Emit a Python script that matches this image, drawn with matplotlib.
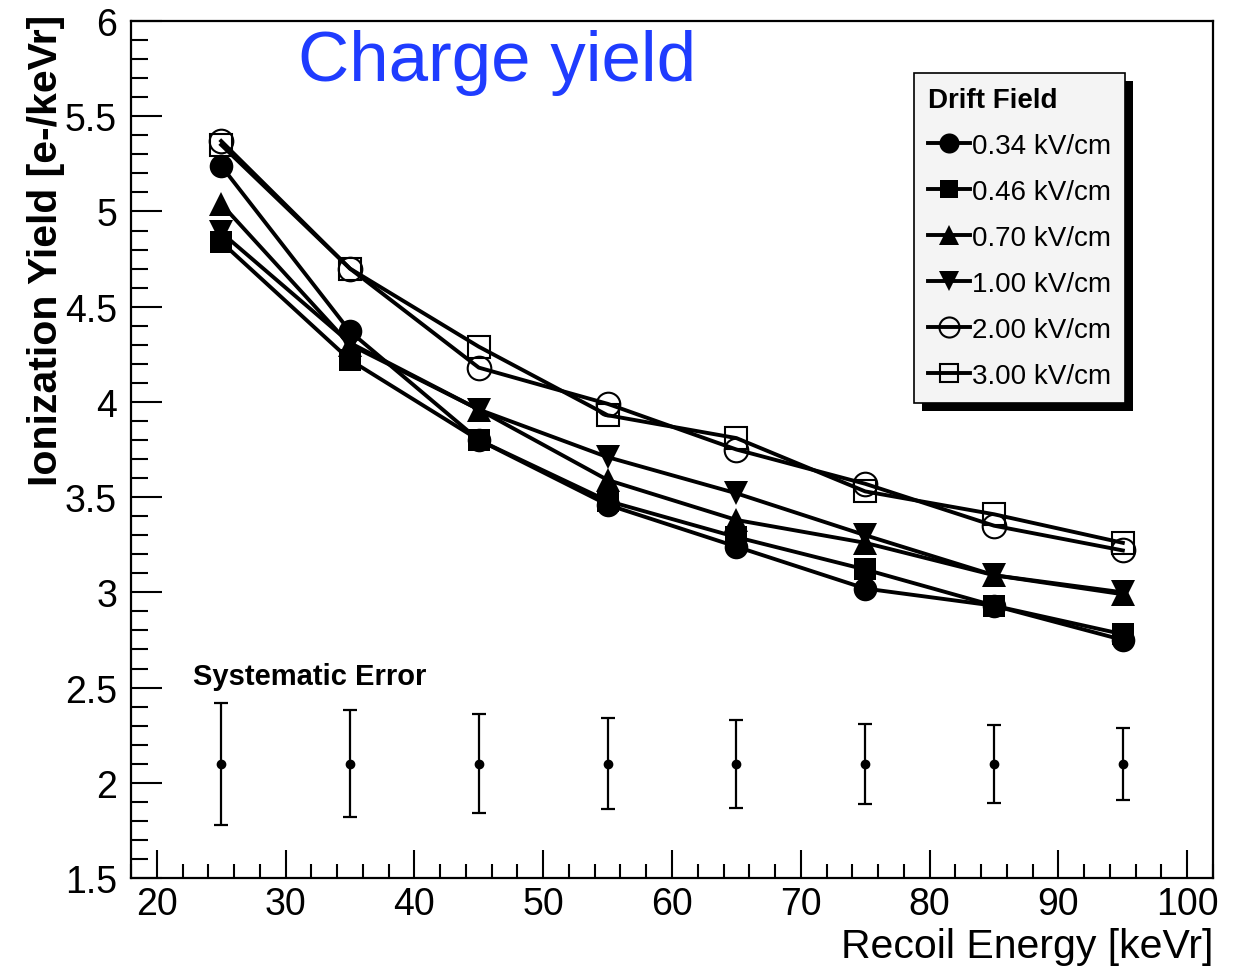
import numpy as np
import matplotlib
matplotlib.use("Agg")
import matplotlib.pyplot as plt
from matplotlib.patches import Rectangle
from matplotlib.ticker import MultipleLocator

plt.rcParams['font.family'] = ['Liberation Sans', 'DejaVu Sans']

# recoil energies (keVr)
energy = [25, 35, 45, 55, 65, 75, 85, 95]

# ionization yield per drift field (e-/keVr)
y_034 = [5.24, 4.37, 3.80, 3.46, 3.24, 3.02, 2.93, 2.75]
y_046 = [4.84, 4.22, 3.80, 3.48, 3.29, 3.12, 2.93, 2.78]
y_070 = [5.04, 4.30, 3.96, 3.59, 3.38, 3.26, 3.09, 2.99]
y_100 = [4.89, 4.31, 3.96, 3.71, 3.52, 3.30, 3.09, 3.00]
y_200 = [5.37, 4.70, 4.18, 3.99, 3.75, 3.57, 3.35, 3.22]
y_300 = [5.35, 4.70, 4.29, 3.93, 3.81, 3.53, 3.41, 3.26]

field_labels = ["0.34 kV/cm", "0.46 kV/cm", "0.70 kV/cm",
                "1.00 kV/cm", "2.00 kV/cm", "3.00 kV/cm"]

# systematic error band shown near the bottom
sys_center = [2.10] * 8
sys_err = [0.32, 0.28, 0.26, 0.24, 0.23, 0.21, 0.205, 0.19]

series = [y_034, y_046, y_070, y_100, y_200, y_300]
markers = ['o', 's', '^', 'v', 'o', 's']
filled = [True, True, True, True, False, False]
msizes = [17, 16, 17, 17, 17, 16]

fig = plt.figure(figsize=(12.5, 9.7), dpi=100)
ax = fig.add_axes([0.1048, 0.0938, 0.8656, 0.8835])

handles = []
for ys, m, f, ms, lab in zip(series, markers, filled, msizes, field_labels):
    h, = ax.plot(energy, ys, color='black', lw=2.8, marker=m, ms=ms,
                 mfc='black' if f else 'none', mec='black',
                 mew=0 if f else 1.5, label=lab)
    handles.append(h)

ax.errorbar(energy, sys_center, yerr=sys_err, fmt='o', color='black',
            ms=6, elinewidth=1.6, capsize=5, capthick=1.6)
ax.text(25.0 - 2.2, 2.56, "Systematic Error", fontsize=21, fontweight='bold',
        ha='left', va='center')

ax.set_xlim(18, 102)
ax.set_ylim(1.5, 6)
ax.xaxis.set_major_locator(MultipleLocator(10))
ax.xaxis.set_minor_locator(MultipleLocator(2))
ax.yaxis.set_major_locator(MultipleLocator(0.5))
ax.yaxis.set_minor_locator(MultipleLocator(0.1))
ax.yaxis.set_major_formatter(plt.FuncFormatter(lambda v, p: f"{v:g}"))
ax.tick_params(which='both', direction='in', width=1.5, labelsize=27,
               top=False, right=False)
ax.tick_params(axis='y', which='major', length=22, pad=10)
ax.tick_params(axis='y', which='minor', length=12)
ax.tick_params(axis='x', which='major', length=20, pad=6)
ax.tick_params(axis='x', which='minor', length=10)
for s in ax.spines.values():
    s.set_linewidth(1.6)

fig.text(0.9704, 0.024, "Recoil Energy [keVr]", fontsize=29.5, ha='right', va='center')
fig.text(0.037, 0.985, "Ionization Yield [e-/keVr]", fontsize=29.5, fontweight='bold',
         rotation=90, ha='center', va='top')
fig.text(0.238, 0.935, "Charge yield", fontsize=51, color='#1f3cff', ha='left', va='center')

leg = fig.legend(handles=handles, loc='upper left', bbox_to_anchor=(914 / 1250, 1 - 74 / 970),
                 borderaxespad=0, title="Drift Field", fontsize=20,
                 title_fontproperties={'weight': 'bold', 'size': 20},
                 alignment='left', frameon=True, fancybox=False, edgecolor='black',
                 facecolor='#f4f4f4', framealpha=1, handlelength=1.5, handletextpad=0.1,
                 labelspacing=0.72, borderpad=0.5, markerscale=0.85)
leg.get_frame().set_linewidth(1.2)
leg.set_zorder(6)

fig.canvas.draw()
bb = leg.get_window_extent().transformed(fig.transFigure.inverted())
off_x, off_y = 8 / 1250, 8 / 970
fig.patches.append(Rectangle((bb.x0 + off_x, bb.y0 - off_y), bb.width, bb.height,
                             transform=fig.transFigure, facecolor='black',
                             edgecolor='none', zorder=4))

fig.savefig("out.png", dpi=100)
